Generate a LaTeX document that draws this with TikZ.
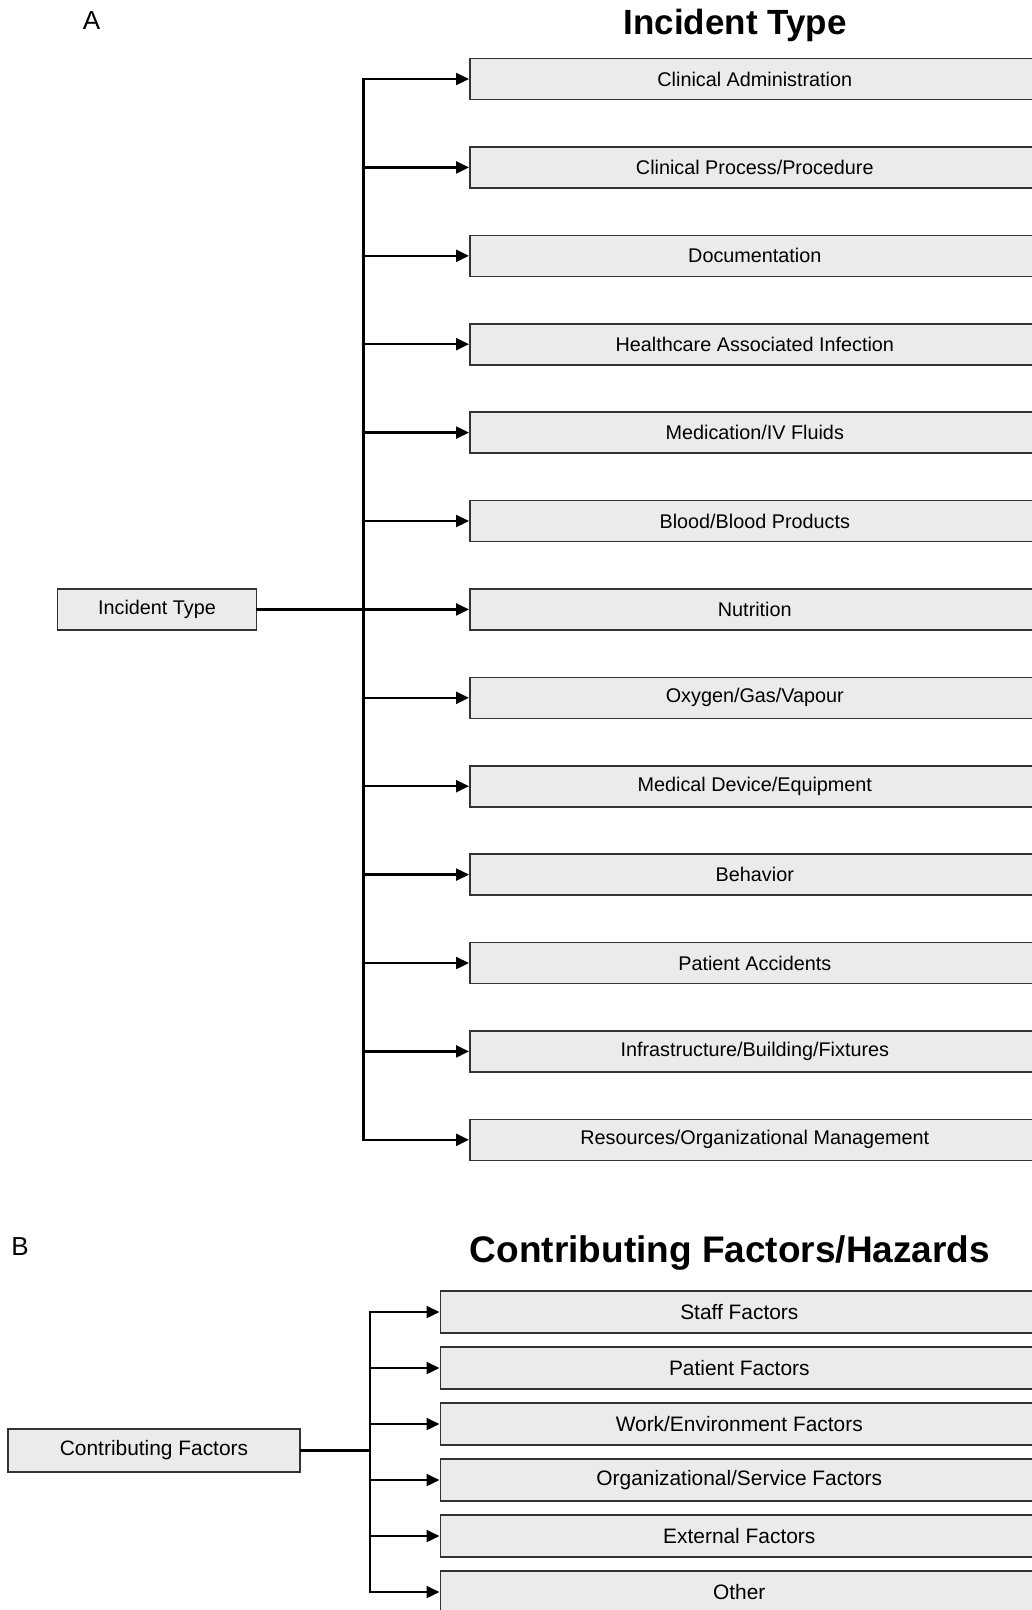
\documentclass[tikz,border=0pt]{standalone}
\usepackage{fontspec}
\setmainfont{Liberation Sans}
\usetikzlibrary{arrows.meta,positioning,calc}

\tikzset{
  catbox/.style={draw=black!80, fill=black!8, line width=1.6pt, inner sep=0pt, minimum height=41pt},
  link/.style={line width=2.3pt, line cap=rect},
  branch/.style={line width=2.3pt, -{Triangle[length=13pt,width=12pt]}},
}

\begin{document}
\begin{tikzpicture}[x=1pt,y=-1pt]
  \clip (0,0) rectangle (1032,1610); % 画像の範囲
  % --- A: Incident Type ---
  \node[font=\fontsize{26}{30}\selectfont] (labA) at (91.5,21) {A}; % パネル記号
  \node[font=\fontsize{35}{40}\selectfont\bfseries] (titleA) at (735,25) {Incident Type}; % 見出し
  \node[catbox, minimum width=199pt, font=\fontsize{19.8}{22}\selectfont] (itype) at (157,609.5) {\raisebox{-1.5pt}{Incident Type}}; % 左の箱
  \foreach \lab [count=\i from 0] in {Clinical Administration,Clinical Process/Procedure,Documentation,Healthcare Associated Infection,Medication/IV Fluids,Blood/Blood Products,Nutrition,Oxygen/Gas/Vapour,Medical Device/Equipment,Behavior,Patient Accidents,Infrastructure/Building/Fixtures,Resources/Organizational Management}
    \node[catbox, minimum width=570pt, anchor=west, font=\fontsize{19.8}{22}\selectfont] (a\i) at (469,79+88.4*\i) {\lab}; % 右の箱
  \coordinate (trunkA) at (363.5,0); % 幹の x 位置
  \draw[link] (itype.east) -- (itype.east -| trunkA); % 左の箱から幹へ
  \draw[link] (a0.west -| trunkA) -- (a12.west -| trunkA); % 幹
  \foreach \i in {0,...,12}
    \draw[branch] (a\i.west -| trunkA) -- (a\i.west); % 枝の矢印
  % --- B: Contributing Factors ---
  \node[font=\fontsize{26}{30}\selectfont] (labB) at (20,1247) {B}; % パネル記号
  \node[font=\fontsize{37}{42}\selectfont\bfseries] (titleB) at (730,1253) {Contributing Factors/Hazards}; % 見出し
  \node[catbox, minimum width=292pt, minimum height=43pt, font=\fontsize{20.9}{24}\selectfont] (cfac) at (154,1450.5) {\raisebox{-2pt}{Contributing Factors}}; % 左の箱
  \foreach \lab [count=\i from 0] in {Staff Factors,Patient Factors,Work/Environment Factors,Organizational/Service Factors,External Factors,Other}
    \node[catbox, minimum width=598pt, minimum height=42pt, anchor=west, font=\fontsize{20.9}{24}\selectfont] (b\i) at (439.5,1312+56*\i) {\lab}; % 右の箱
  \coordinate (trunkB) at (369.7,0); % 幹の x 位置
  \draw[link] (cfac.east) -- (cfac.east -| trunkB); % 左の箱から幹へ
  \draw[link] (b0.west -| trunkB) -- (b5.west -| trunkB); % 幹
  \foreach \i in {0,...,5}
    \draw[branch] (b\i.west -| trunkB) -- (b\i.west); % 枝の矢印
\end{tikzpicture}
\end{document}
